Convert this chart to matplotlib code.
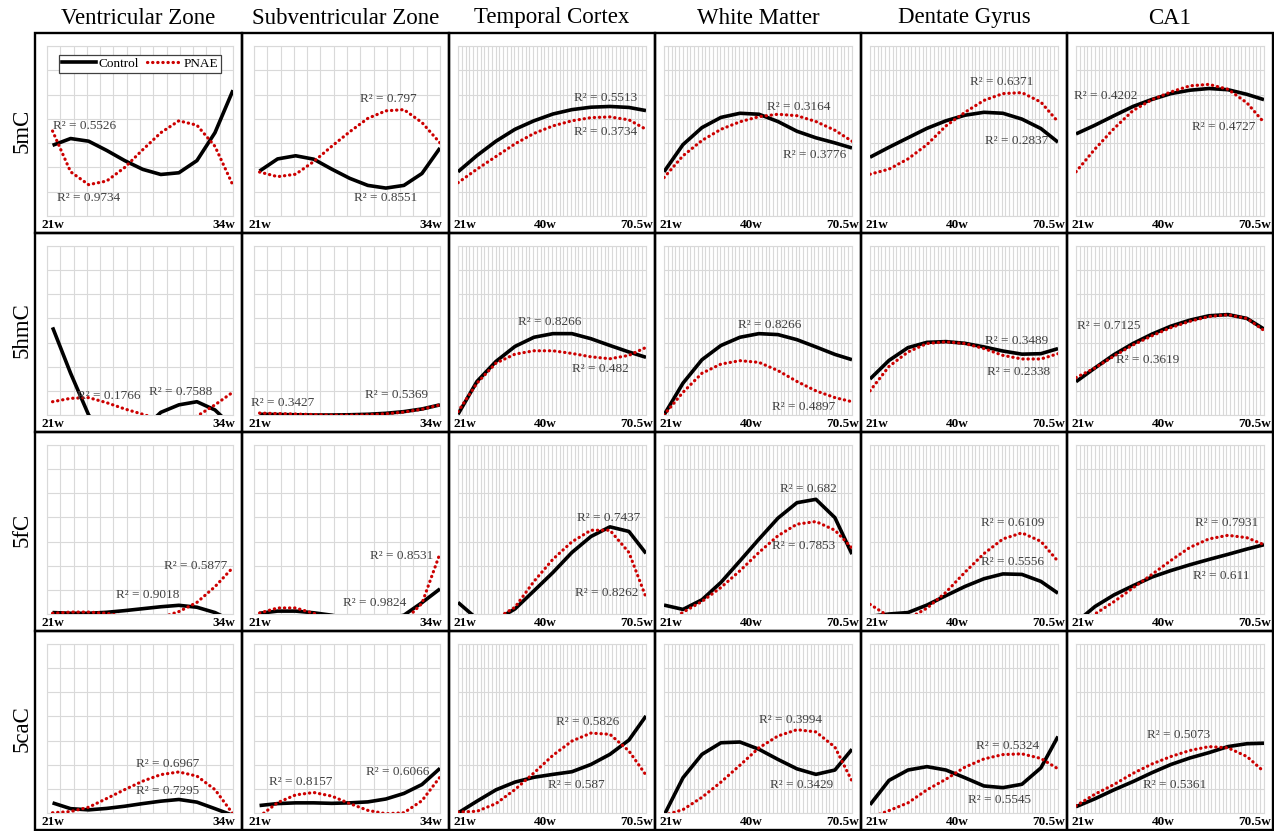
import numpy as np
import matplotlib
matplotlib.use("Agg")
import matplotlib.pyplot as plt
from matplotlib.patches import Rectangle
from matplotlib.lines import Line2D

plt.rcParams['font.family'] = ['Liberation Serif', 'DejaVu Serif']

regions = ["Ventricular Zone", "Subventricular Zone", "Temporal Cortex",
           "White Matter", "Dentate Gyrus", "CA1"]
marks = ["5mC", "5hmC", "5fC", "5caC"]

weeks_early = [21, 22.3, 23.6, 24.9, 26.2, 27.5, 28.8, 30.1, 31.4, 32.7, 34]
weeks_late = [21, 26, 31, 36, 41, 46, 51, 56, 61, 66, 70.5]
ticks_early = ["21w", "34w"]
ticks_late = ["21w", "40w", "70.5w"]

# trendline heights in gridline units (0 = bottom line, 7 = top line), one list per region
control_5mC = [
    [2.91, 3.19, 3.08, 2.70, 2.28, 1.92, 1.71, 1.78, 2.28, 3.43, 5.18],
    [1.85, 2.35, 2.48, 2.34, 1.93, 1.55, 1.26, 1.15, 1.26, 1.75, 2.80],
    [1.82, 2.49, 3.08, 3.57, 3.92, 4.20, 4.38, 4.48, 4.51, 4.47, 4.34],
    [1.82, 2.94, 3.64, 4.06, 4.23, 4.19, 3.89, 3.49, 3.22, 3.01, 2.80],
    [2.42, 2.83, 3.22, 3.61, 3.92, 4.15, 4.27, 4.23, 3.99, 3.60, 3.04],
    [3.38, 3.74, 4.13, 4.51, 4.80, 5.04, 5.18, 5.25, 5.20, 5.01, 4.79],
]
pnae_5mC = [
    [3.50, 1.82, 1.29, 1.44, 2.00, 2.73, 3.43, 3.92, 3.74, 2.87, 1.26],
    [1.81, 1.62, 1.72, 2.24, 2.87, 3.47, 4.02, 4.33, 4.38, 3.85, 3.01],
    [1.37, 1.93, 2.45, 2.97, 3.40, 3.71, 3.92, 4.05, 4.08, 3.96, 3.57],
    [1.58, 2.48, 3.11, 3.57, 3.88, 4.09, 4.19, 4.13, 3.89, 3.53, 3.08],
    [1.72, 1.93, 2.35, 2.94, 3.71, 4.27, 4.76, 5.04, 5.08, 4.69, 3.88],
    [1.82, 2.76, 3.60, 4.34, 4.79, 5.11, 5.36, 5.42, 5.22, 4.66, 3.85],
]
control_5hmC = [
    [3.63, 1.73, 0.0, -0.9, -1.3, -0.6, 0.11, 0.42, 0.55, 0.21, -0.5],
    [0.03, 0.02, 0.01, 0.0, 0.0, 0.01, 0.03, 0.07, 0.14, 0.25, 0.42],
    [0.03, 1.39, 2.22, 2.84, 3.22, 3.37, 3.37, 3.16, 2.88, 2.61, 2.39],
    [0.0, 1.32, 2.29, 2.88, 3.22, 3.37, 3.33, 3.12, 2.82, 2.51, 2.29],
    [1.49, 2.26, 2.79, 3.01, 3.04, 2.97, 2.82, 2.65, 2.52, 2.54, 2.75],
    [1.38, 1.95, 2.50, 2.96, 3.35, 3.68, 3.93, 4.11, 4.16, 4.00, 3.56],
]
pnae_5hmC = [
    [0.55, 0.69, 0.72, 0.51, 0.25, 0.03, -0.2, -0.3, -0.05, 0.42, 0.95],
    [0.08, 0.06, 0.04, 0.02, 0.0, 0.0, 0.01, 0.05, 0.12, 0.24, 0.42],
    [0.14, 1.32, 2.15, 2.52, 2.66, 2.66, 2.55, 2.41, 2.33, 2.47, 2.80],
    [0.0, 0.94, 1.73, 2.11, 2.25, 2.18, 1.84, 1.39, 1.0, 0.72, 0.55],
    [1.0, 2.01, 2.61, 2.96, 3.03, 2.96, 2.75, 2.47, 2.32, 2.32, 2.54],
    [1.55, 1.95, 2.44, 2.90, 3.28, 3.62, 3.88, 4.08, 4.15, 4.00, 3.50],
]
control_5fC = [
    [0.06, 0.03, 0.03, 0.07, 0.14, 0.22, 0.30, 0.36, 0.28, 0.06, -0.3],
    [0.03, 0.12, 0.12, 0.05, -0.05, -0.2, -0.25, -0.2, -0.05, 0.47, 1.04],
    [0.48, -0.2, -0.25, 0.21, 0.96, 1.72, 2.55, 3.21, 3.61, 3.42, 2.51],
    [0.37, 0.19, 0.59, 1.31, 2.20, 3.10, 3.97, 4.61, 4.75, 3.99, 2.48],
    [-0.1, 0.0, 0.06, 0.37, 0.76, 1.14, 1.46, 1.66, 1.64, 1.35, 0.86],
    [-0.35, 0.31, 0.79, 1.17, 1.53, 1.80, 2.04, 2.26, 2.47, 2.69, 2.87],
]
pnae_5fC = [
    [0.03, 0.08, 0.08, 0.03, -0.1, -0.2, -0.15, 0.1, 0.48, 1.13, 1.93],
    [0.04, 0.25, 0.25, 0.03, -0.3, -0.6, -0.7, -0.6, -0.3, 0.44, 2.51],
    [-0.8, -0.6, -0.2, 0.28, 1.35, 2.27, 2.99, 3.47, 3.47, 2.55, 0.69],
    [-0.4, 0.07, 0.52, 1.10, 1.79, 2.55, 3.24, 3.72, 3.83, 3.47, 2.73],
    [0.40, -0.1, -0.2, 0.24, 0.90, 1.73, 2.50, 3.11, 3.36, 3.01, 2.18],
    [-0.6, 0.0, 0.51, 1.08, 1.64, 2.22, 2.76, 3.11, 3.26, 3.16, 2.87],
]
control_5caC = [
    [0.42, 0.18, 0.13, 0.19, 0.28, 0.39, 0.49, 0.56, 0.45, 0.18, -0.1],
    [0.31, 0.39, 0.42, 0.42, 0.40, 0.42, 0.46, 0.58, 0.81, 1.18, 1.85],
    [0.0, 0.49, 0.96, 1.28, 1.48, 1.60, 1.71, 2.01, 2.43, 3.02, 4.02],
    [-0.1, 1.46, 2.43, 2.91, 2.94, 2.64, 2.22, 1.83, 1.60, 1.78, 2.64],
    [0.34, 1.35, 1.78, 1.92, 1.78, 1.46, 1.12, 1.05, 1.19, 1.87, 3.17],
    [0.26, 0.59, 0.96, 1.30, 1.67, 2.01, 2.28, 2.50, 2.75, 2.87, 2.89],
]
pnae_5caC = [
    [0.01, 0.06, 0.24, 0.60, 0.97, 1.32, 1.59, 1.70, 1.53, 0.97, -0.04],
    [-0.14, 0.43, 0.75, 0.85, 0.70, 0.39, 0.11, -0.03, 0.01, 0.51, 1.49],
    [0.04, 0.07, 0.39, 0.97, 1.66, 2.39, 2.98, 3.31, 3.26, 2.57, 1.57],
    [-0.1, 0.14, 0.65, 1.28, 1.98, 2.70, 3.19, 3.45, 3.36, 2.73, 1.32],
    [-0.2, 0.10, 0.42, 0.96, 1.40, 1.90, 2.24, 2.42, 2.45, 2.26, 1.83],
    [0.30, 0.78, 1.18, 1.64, 2.03, 2.34, 2.59, 2.75, 2.70, 2.34, 1.71],
]

# R squared of each trendline
r2_control_5mC = [0.5526, 0.8551, 0.5513, 0.3776, 0.2837, 0.4202]
r2_pnae_5mC = [0.9734, 0.797, 0.3734, 0.3164, 0.6371, 0.4727]
r2_control_5hmC = [0.7588, 0.5369, 0.8266, 0.8266, 0.3489, 0.7125]
r2_pnae_5hmC = [0.1766, 0.3427, 0.482, 0.4897, 0.2338, 0.3619]
r2_control_5fC = [0.9018, 0.9824, 0.7437, 0.682, 0.5556, 0.611]
r2_pnae_5fC = [0.5877, 0.8531, 0.8262, 0.7853, 0.6109, 0.7931]
r2_control_5caC = [0.7295, 0.6066, 0.587, 0.3429, 0.5545, 0.5361]
r2_pnae_5caC = [0.6967, 0.8157, 0.5826, 0.3994, 0.5324, 0.5073]

control_rows = [control_5mC, control_5hmC, control_5fC, control_5caC]
pnae_rows = [pnae_5mC, pnae_5hmC, pnae_5fC, pnae_5caC]
r2_control_rows = [r2_control_5mC, r2_control_5hmC, r2_control_5fC, r2_control_5caC]
r2_pnae_rows = [r2_pnae_5mC, r2_pnae_5hmC, r2_pnae_5fC, r2_pnae_5caC]

# where the R2 labels sit (axes fraction, centre)
pos_control = [
    [(0.20, 0.53), (0.71, 0.106), (0.786, 0.696), (0.80, 0.36), (0.78, 0.44), (0.16, 0.706)],
    [(0.72, 0.135), (0.765, 0.12), (0.49, 0.55), (0.56, 0.535), (0.78, 0.44), (0.174, 0.528)],
    [(0.54, 0.112), (0.646, 0.063), (0.80, 0.57), (0.77, 0.74), (0.76, 0.305), (0.775, 0.226)],
    [(0.646, 0.133), (0.77, 0.245), (0.63, 0.168), (0.73, 0.168), (0.69, 0.076), (0.525, 0.166)],
]
pos_pnae = [
    [(0.225, 0.106), (0.72, 0.69), (0.786, 0.494), (0.714, 0.64), (0.70, 0.79), (0.785, 0.526)],
    [(0.33, 0.115), (0.156, 0.07), (0.757, 0.273), (0.743, 0.05), (0.79, 0.253), (0.38, 0.327)],
    [(0.80, 0.286), (0.795, 0.345), (0.79, 0.124), (0.745, 0.40), (0.76, 0.54), (0.80, 0.54)],
    [(0.646, 0.29), (0.25, 0.185), (0.69, 0.54), (0.672, 0.55), (0.733, 0.395), (0.548, 0.463)],
]

W, H = 1274, 831
col_edges = [35, 242, 449, 655, 861, 1067, 1273]
row_edges = [33, 233, 432, 631, 830]
grid_col = '#D9D9D9'
red = '#CC0000'

fig = plt.figure(figsize=(W / 100, H / 100), dpi=100)

for c, name in enumerate(regions):
    xm = (col_edges[c] + col_edges[c + 1]) / 2
    fig.text(xm / W, 1 - 18 / H, name, ha='center', va='center', fontsize=16.5)

for r in range(4):
    for c in range(6):
        x0, x1 = col_edges[c], col_edges[c + 1]
        y0, y1 = row_edges[r], row_edges[r + 1]
        fig.add_artist(Rectangle((x0 / W, 1 - y1 / H), (x1 - x0) / W, (y1 - y0) / H,
                                 transform=fig.transFigure, fill=False, lw=1.7, ec='black', zorder=5))
        left = x0 + (12 if c < 2 else 9)
        right = x1 - 9
        top = y0 + 13
        bottom = y1 - 17
        ax = fig.add_axes([left / W, 1 - bottom / H, (right - left) / W, (bottom - top) / H])

        if c < 2:
            xs = weeks_early
            xlo, xhi, nx = 20.6, 34, 14
            tick_pos = [0.03, 0.95]
            tick_lab = ticks_early
        else:
            xs = weeks_late
            xlo, xhi, nx = 21, 70.5, 50
            tick_pos = [0.037, 0.465, 0.952]
            tick_lab = ticks_late

        ax.set_xlim(xlo, xhi)
        ax.set_ylim(0, 7)
        ax.set_xticks(np.linspace(xlo, xhi, nx + 1))
        ax.set_yticks(range(8))
        ax.grid(True, color=grid_col, lw=0.8)
        ax.set_axisbelow(True)
        ax.tick_params(length=0, labelbottom=False, labelleft=False)
        for s in ax.spines.values():
            s.set_color(grid_col)
            s.set_linewidth(0.8)

        ax.plot(xs, control_rows[r][c], color='black', lw=2.6, solid_capstyle='butt',
                solid_joinstyle='round', zorder=3)
        ax.plot(xs, pnae_rows[r][c], color=red, lw=2.3, linestyle=(0, (0.1, 1.5)),
                dash_capstyle='round', zorder=4)

        px, py = pos_control[r][c]
        ax.text(px, py, f"R² = {r2_control_rows[r][c]}", transform=ax.transAxes,
                ha='center', va='center', fontsize=9.5, color='#404040', zorder=6)
        px, py = pos_pnae[r][c]
        ax.text(px, py, f"R² = {r2_pnae_rows[r][c]}", transform=ax.transAxes,
                ha='center', va='center', fontsize=9.5, color='#404040', zorder=6)

        for tp, tl in zip(tick_pos, tick_lab):
            ax.text(tp, -9 / (bottom - top), tl, transform=ax.transAxes, ha='center', va='center',
                    fontsize=9.5, fontweight='bold', clip_on=False)

        if c == 0:
            fig.text(22 / W, 1 - ((top + bottom) / 2) / H, marks[r], rotation=90,
                     ha='center', va='center', fontsize=16.5)

        if r == 0 and c == 0:
            handles = [Line2D([], [], color='black', lw=2.6),
                       Line2D([], [], color=red, lw=2.3, linestyle=(0, (0.1, 1.5)), dash_capstyle='round')]
            leg = ax.legend(handles, ["Control", "PNAE"], loc='upper center', bbox_to_anchor=(0.5, 0.985),
                            ncol=2, fontsize=9.5, handlelength=2.6, handletextpad=0.2, columnspacing=0.6,
                            borderpad=0.2, fancybox=False, framealpha=1, edgecolor='#404040')
            leg.get_frame().set_linewidth(0.9)

fig.savefig("out.png", dpi=100)
